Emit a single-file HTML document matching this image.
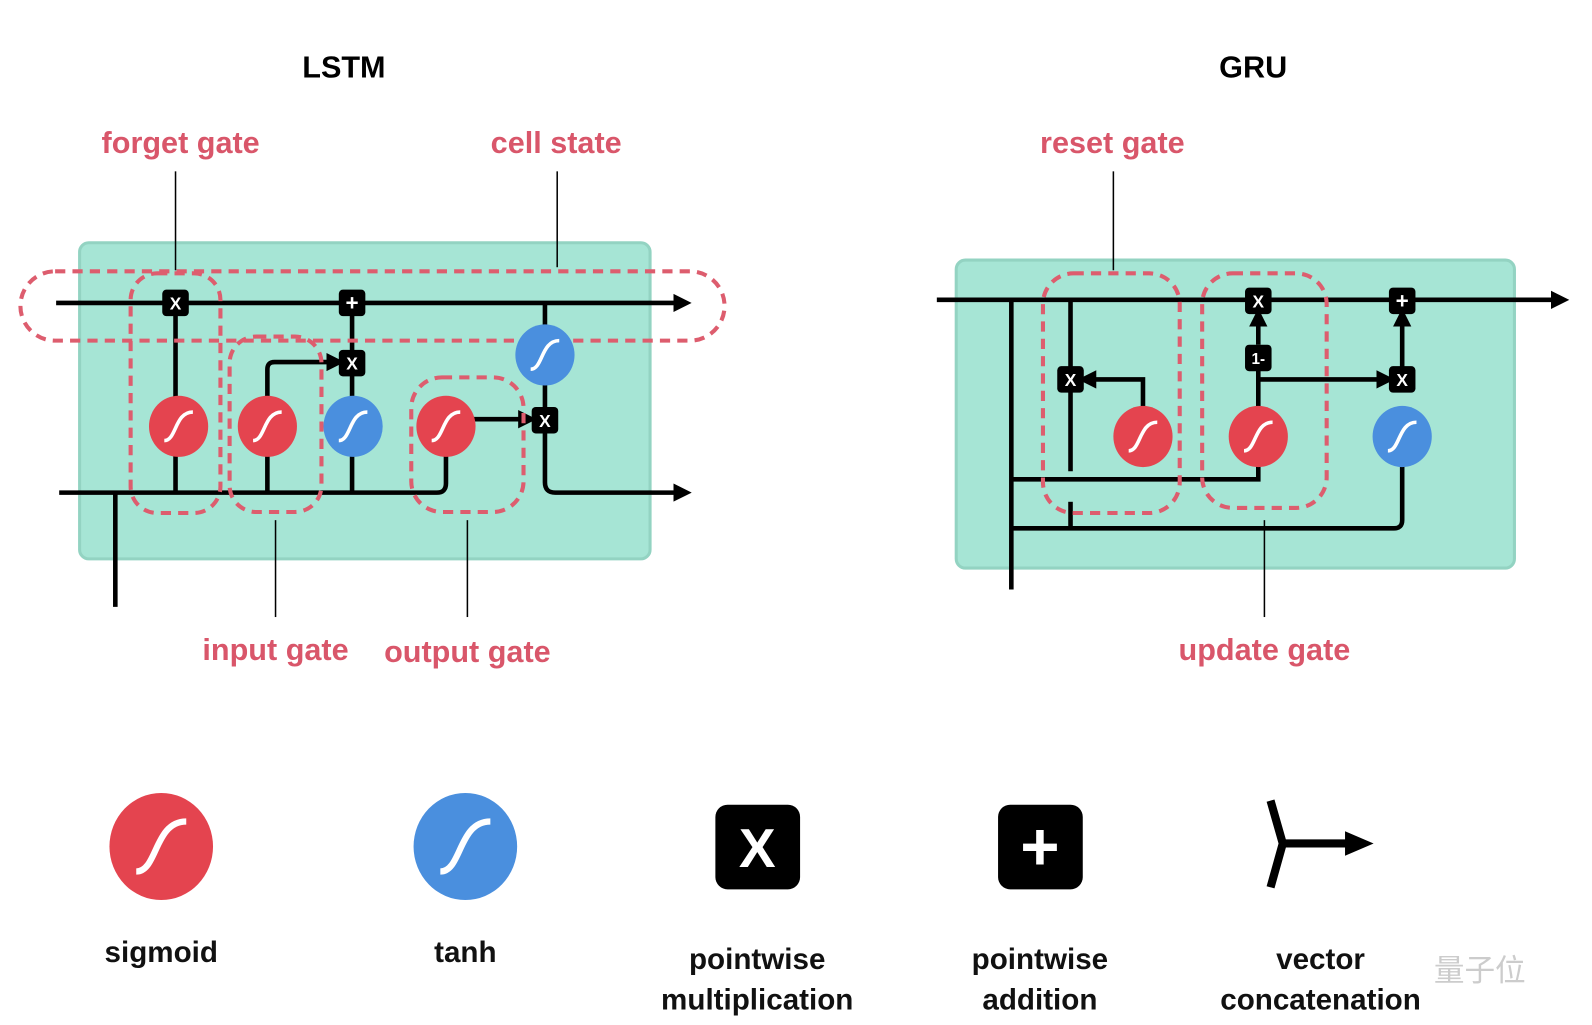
<!DOCTYPE html>
<html><head><meta charset="utf-8"><style>html,body{margin:0;padding:0;background:#fff;width:1592px;height:1025px;overflow:hidden}svg{display:block}</style></head><body>
<svg width="1592" height="1025" viewBox="0 0 1560 1005" preserveAspectRatio="none" xmlns="http://www.w3.org/2000/svg" font-family="Liberation Sans, sans-serif" font-weight="bold">
<defs>
<g id="sg"><ellipse rx="29" ry="30" fill="#e4444f"/><path d="M-14,14 C-2,14 -4,-14 14,-14" stroke="#fff" stroke-width="3.5" fill="none"/></g>
<g id="th"><ellipse rx="29" ry="30" fill="#4a8fde"/><path d="M-14,14 C-2,14 -4,-14 14,-14" stroke="#fff" stroke-width="3.5" fill="none"/></g>
<g id="mx"><rect x="-13" y="-13" width="26" height="26" rx="4" fill="#000"/><text y="6.5" text-anchor="middle" font-size="17" fill="#fff">X</text></g>
<g id="pl"><rect x="-13" y="-13" width="26" height="26" rx="4" fill="#000"/><text y="7.5" text-anchor="middle" font-size="22" fill="#fff">+</text></g>
<marker id="ar" markerWidth="4" markerHeight="4" refX="0.5" refY="2" orient="auto" markerUnits="strokeWidth"><path d="M0,0 L4,2 L0,4 z" fill="#000"/></marker>
</defs>
<text x="337" y="76" font-size="30" text-anchor="middle">LSTM</text>
<text x="1228" y="76" font-size="30" text-anchor="middle">GRU</text>
<g fill="#d9566a" font-size="30" text-anchor="middle">
<text x="177" y="150">forget gate</text><text x="545" y="150">cell state</text>
<text x="270" y="647">input gate</text><text x="458" y="649">output gate</text>
<text x="1090" y="150">reset gate</text><text x="1239" y="647">update gate</text>
</g>
<rect x="78" y="238" width="559" height="310" rx="9" fill="#a6e5d5" stroke="#93d3c2" stroke-width="3"/>
<g stroke="#000" stroke-width="1.5"><line x1="172" y1="168" x2="172" y2="265"/><line x1="546" y1="168" x2="546" y2="262"/><line x1="270" y1="510" x2="270" y2="605"/><line x1="458" y1="510" x2="458" y2="605"/></g>
<g stroke="#000" stroke-width="4.5" fill="none">
<line x1="55" y1="297" x2="662" y2="297" marker-end="url(#ar)"/>
<path d="M58,483 H428 Q437,483 437,474 V418"/>
<line x1="113" y1="483" x2="113" y2="595"/>
<line x1="172" y1="297" x2="172" y2="483"/>
<path d="M262,483 V362 Q262,355 269,355 H322" marker-end="url(#ar)"/>
<line x1="345" y1="297" x2="345" y2="483"/>
<line x1="437" y1="411" x2="510" y2="411" marker-end="url(#ar)"/>
<path d="M534,297 V473 Q534,483 544,483 H662" marker-end="url(#ar)"/>
</g>
<g stroke="#dd5d6e" stroke-width="4" stroke-dasharray="10,7" fill="none">
<rect x="20" y="266" width="690" height="68" rx="34"/>
<rect x="128" y="268" width="88" height="235" rx="26"/>
<rect x="225" y="330" width="90" height="172" rx="26"/>
<rect x="403" y="370" width="110" height="132" rx="30"/>
</g>
<use href="#sg" x="175" y="418"/><use href="#sg" x="262" y="418"/><use href="#th" x="346" y="418"/><use href="#sg" x="437" y="418"/><use href="#th" x="534" y="348"/>
<use href="#mx" x="172" y="297"/><use href="#pl" x="345" y="297"/><use href="#mx" x="345" y="356"/><use href="#mx" x="534" y="412"/>
<rect x="937" y="255" width="547" height="302" rx="9" fill="#a6e5d5" stroke="#93d3c2" stroke-width="3"/>
<g stroke="#000" stroke-width="1.5"><line x1="1091" y1="168" x2="1091" y2="265"/><line x1="1239" y1="510" x2="1239" y2="605"/></g>
<g stroke="#000" stroke-width="4.5" fill="none">
<line x1="918" y1="294" x2="1522" y2="294" marker-end="url(#ar)"/>
<line x1="991" y1="294" x2="991" y2="578"/>
<line x1="1049" y1="294" x2="1049" y2="462"/>
<line x1="1049" y1="492" x2="1049" y2="518"/>
<path d="M1120,428 V372 H1072" marker-end="url(#ar)"/>
<path d="M991,470 H1233 V350"/>
<line x1="1233" y1="338" x2="1233" y2="318" marker-end="url(#ar)"/>
<line x1="1233" y1="372" x2="1351" y2="372" marker-end="url(#ar)"/>
<path d="M991,518 H1366 Q1374,518 1374,510 V428"/>
<line x1="1374" y1="372" x2="1374" y2="318" marker-end="url(#ar)"/>
</g>
<g stroke="#dd5d6e" stroke-width="4" stroke-dasharray="10,7" fill="none">
<rect x="1022" y="268" width="134" height="235" rx="30"/>
<rect x="1178" y="268" width="122" height="230" rx="30"/>
</g>
<use href="#sg" x="1120" y="428"/><use href="#sg" x="1233" y="428"/><use href="#th" x="1374" y="428"/>
<use href="#mx" x="1049" y="372"/><use href="#mx" x="1233" y="295"/><use href="#pl" x="1374" y="295"/><use href="#mx" x="1374" y="372"/>
<rect x="1220" y="338" width="26" height="26" rx="4" fill="#000"/><text x="1233" y="357" text-anchor="middle" font-size="15" fill="#fff">1-</text>
<g transform="translate(158,830) scale(1.75)"><use href="#sg"/></g>
<g transform="translate(456,830) scale(1.75)"><use href="#th"/></g>
<rect x="701" y="789" width="83" height="83" rx="12" fill="#000"/><text x="742" y="850" text-anchor="middle" font-size="54" fill="#fff">X</text>
<rect x="978" y="789" width="83" height="83" rx="12" fill="#000"/><text x="1019" y="853" text-anchor="middle" font-size="66" fill="#fff">+</text>
<g stroke="#000" stroke-width="8" fill="none"><path d="M1245,785 L1257,827 L1245,870"/><line x1="1257" y1="827" x2="1320" y2="827"/></g>
<path d="M1318,815 L1346,827 L1318,839 z" fill="#000"/>
<g font-size="29" text-anchor="middle" fill="#111">
<text x="158" y="943">sigmoid</text><text x="456" y="943">tanh</text>
<text x="742" y="950">pointwise</text><text x="742" y="990">multiplication</text>
<text x="1019" y="950">pointwise</text><text x="1019" y="990">addition</text>
<text x="1294" y="950">vector</text><text x="1294" y="990">concatenation</text>
</g>
<text x="1450" y="962" text-anchor="middle" font-size="30" fill="#ccc" font-weight="normal" font-family="Liberation Sans, Noto Sans CJK SC, sans-serif">量子位</text>
</svg>
</body></html>
